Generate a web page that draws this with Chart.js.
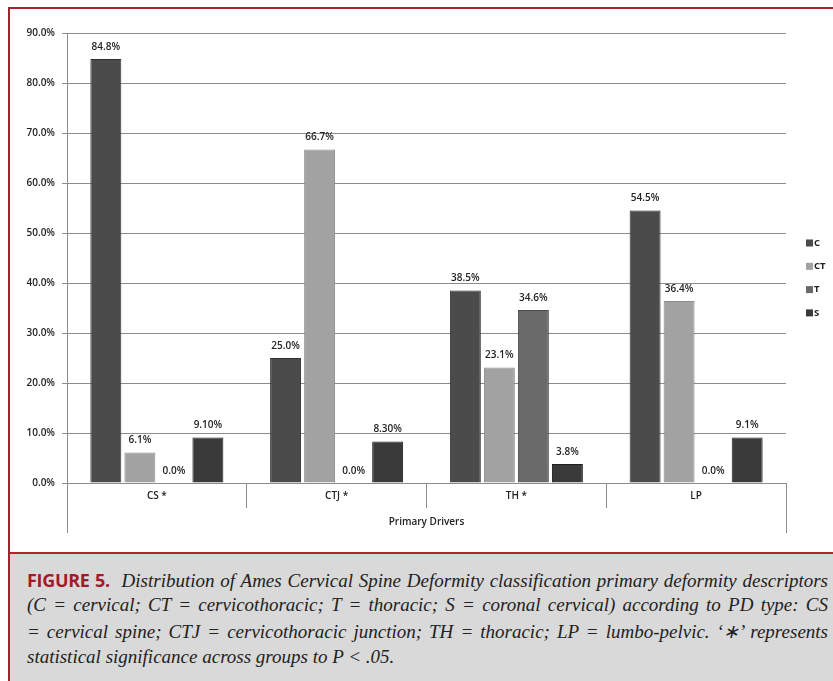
<!DOCTYPE html>
<html>
<head>
<meta charset="utf-8">
<script src="https://cdn.jsdelivr.net/npm/chart.js@4.4.0/dist/chart.umd.min.js"></script>
<style>
  body { margin: 0; background: #fff; width: 833px; height: 681px; overflow: hidden; position: relative; }
  #frame { position: absolute; left: 8px; top: 7px; width: 840px; height: 700px; border-left: 2px solid #a8202e; border-top: 2px solid #a8202e; }
  #chartBox { position: absolute; left: 10px; top: 9px; width: 823px; height: 543px; }
  #caption { position: absolute; left: 10px; top: 552px; width: 823px; height: 129px; background: #d9d9d9; border-top: 2px solid #b2262f; }
  .line { position: absolute; left: 17px; width: 801px; font-family: "Liberation Serif", serif; font-style: italic; font-size: 19px; color: #222; white-space: nowrap; }
  .just { text-align: justify; text-align-last: justify; white-space: normal; }
  .fig { font-family: "Open Sans", sans-serif; font-style: normal; font-weight: 700; color: #a3192c; font-size: 18px; letter-spacing: -0.3px; }
</style>
</head>
<body>
<div id="frame"></div>
<div id="chartBox"><canvas id="chart"></canvas></div>
<div id="caption">
  <div class="line just" style="top:14px"><span class="fig">FIGURE 5.</span>&nbsp; Distribution of Ames Cervical Spine Deformity classification primary deformity descriptors</div>
  <div class="line just" style="top:40px">(C = cervical; CT = cervicothoracic; T = thoracic; S = coronal cervical) according to PD type: CS</div>
  <div class="line just" style="top:66px">= cervical spine; CTJ = cervicothoracic junction; TH = thoracic; LP = lumbo-pelvic. ‘∗’ represents</div>
  <div class="line" style="top:92px">statistical significance across groups to P &lt; .05.</div>
</div>
<script>
const categories = ['CS *', 'CTJ *', 'TH *', 'LP'];
const seriesNames = ['C', 'CT', 'T', 'S'];
const cValues = [84.8, 25.0, 38.5, 54.5];
const ctValues = [6.1, 66.7, 23.1, 36.4];
const tValues = [0.0, 0.0, 34.6, 0.0];
const sValues = [9.1, 8.3, 3.8, 9.1];
const cLabels = ['84.8%', '25.0%', '38.5%', '54.5%'];
const ctLabels = ['6.1%', '66.7%', '23.1%', '36.4%'];
const tLabels = ['0.0%', '0.0%', '34.6%', '0.0%'];
const sLabels = ['9.10%', '8.30%', '3.8%', '9.1%'];
const yTicks = [0, 10, 20, 30, 40, 50, 60, 70, 80, 90];

const fills = ['#4b4b4b', '#a2a2a2', '#6a6a6a', '#3a3a3a'];
const edges = ['#2e2e2e', '#8a8a8a', '#4a4a4a', '#1e1e1e'];
const valueTexts = [cLabels, ctLabels, tLabels, sLabels];
const FONT = '"Open Sans", sans-serif';

Chart.defaults.font.family = FONT;
Chart.defaults.color = '#222';

const datasets = [cValues, ctValues, tValues, sValues].map((vals, i) => ({
    label: seriesNames[i],
    data: vals,
    backgroundColor: fills[i],
    borderColor: edges[i],
    borderWidth: 1,
    categoryPercentage: 0.757,
    barPercentage: 0.91
}));

// value text over each bar
const valueLabels = {
    id: 'valueLabels',
    afterDatasetsDraw(chart) {
        const ctx = chart.ctx;
        ctx.save();
        ctx.font = '600 10px ' + FONT;
        ctx.fillStyle = '#222';
        ctx.textAlign = 'center';
        ctx.textBaseline = 'middle';
        chart.data.datasets.forEach((ds, i) => {
            chart.getDatasetMeta(i).data.forEach((bar, j) => {
                ctx.fillText(valueTexts[i][j], bar.x, bar.y - 12);
            });
        });
        ctx.restore();
    }
};

// small legend at the right + the outer axis lines that run down past the labels
const extras = {
    id: 'extras',
    afterDraw(chart) {
        const ctx = chart.ctx;
        const a = chart.chartArea;
        const xs = chart.scales.x;
        const edgeL = Math.round(xs.left - 0.5) + 0.5;
        const edgeR = Math.round(xs.right - 0.5) + 0.5;
        ctx.save();
        ctx.strokeStyle = '#8c8c8c';
        ctx.lineWidth = 1;
        ctx.beginPath();
        ctx.moveTo(edgeL, a.bottom + 24);
        ctx.lineTo(edgeL, a.bottom + 50);
        ctx.moveTo(edgeR, a.bottom + 24);
        ctx.lineTo(edgeR, a.bottom + 50);
        ctx.stroke();

        ctx.font = '700 9.5px ' + FONT;
        ctx.textBaseline = 'middle';
        ctx.textAlign = 'left';
        chart.data.datasets.forEach((ds, i) => {
            const y = 234 + i * 23.3;
            ctx.fillStyle = ds.backgroundColor;
            ctx.fillRect(796, y - 3.5, 7, 7);
            ctx.fillStyle = '#222';
            ctx.fillText(ds.label, 804, y);
        });
        ctx.restore();
    }
};

new Chart(document.getElementById('chart'), {
    type: 'bar',
    data: { labels: categories, datasets: datasets },
    options: {
        responsive: true,
        maintainAspectRatio: false,
        animation: false,
        layout: { padding: { left: 0, right: 47, top: 24, bottom: 19 } },
        plugins: {
            legend: { display: false },
            tooltip: { enabled: false }
        },
        scales: {
            x: {
                grid: { drawOnChartArea: false, tickLength: 25, color: '#8c8c8c' },
                border: { color: '#8c8c8c' },
                ticks: { padding: -18, font: { size: 10, weight: '600' }, color: '#222' },
                title: { display: true, text: 'Primary Drivers', padding: { top: 0, bottom: 5 }, font: { size: 10, weight: '600' }, color: '#222' },
                afterFit(scale) { scale.height = 50; }
            },
            y: {
                min: 0,
                max: 90,
                afterBuildTicks(scale) { scale.ticks = yTicks.map(v => ({ value: v })); },
                grid: { color: '#8c8c8c', tickLength: 5 },
                border: { color: '#8c8c8c' },
                ticks: {
                    padding: 7,
                    font: { size: 10, weight: '600' },
                    color: '#222',
                    callback: v => v.toFixed(1) + '%'
                },
                afterFit(scale) { scale.width = 57; }
            }
        }
    },
    plugins: [valueLabels, extras]
});
</script>
</body>
</html>
